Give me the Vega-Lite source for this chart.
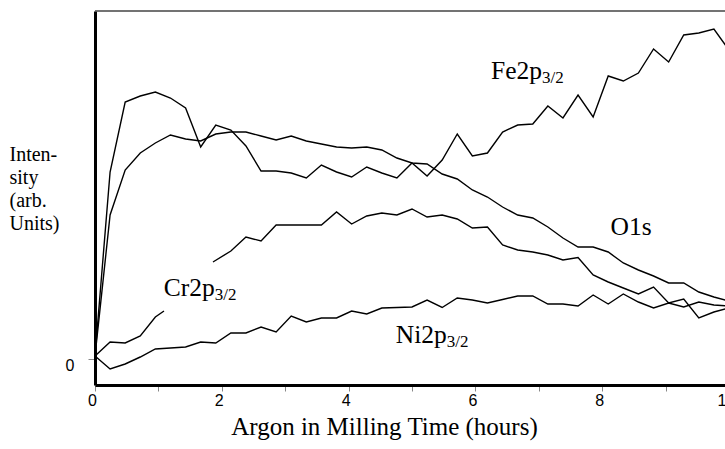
{
  "$schema": "https://vega.github.io/schema/vega-lite/v6.json",
  "width": 630,
  "height": 374,
  "autosize": {"type": "none"},
  "padding": {"left": 95, "top": 11, "right": 0, "bottom": 64},
  "background": "white",
  "config": {"view": {"stroke": null}, "axis": {"grid": false}},
  "datasets": {
    "lines": [
      {"seg":"Fe","h":0,"v":3},{"seg":"Fe","h":0.238,"v":187},{"seg":"Fe","h":0.476,"v":257},{"seg":"Fe","h":0.714,"v":263},{"seg":"Fe","h":0.952,"v":267},{"seg":"Fe","h":1.19,"v":261},{"seg":"Fe","h":1.429,"v":251},{"seg":"Fe","h":1.667,"v":212},{"seg":"Fe","h":1.905,"v":234},{"seg":"Fe","h":2.143,"v":229},{"seg":"Fe","h":2.381,"v":213},{"seg":"Fe","h":2.619,"v":188},{"seg":"Fe","h":2.857,"v":188},{"seg":"Fe","h":3.095,"v":186},{"seg":"Fe","h":3.333,"v":181},{"seg":"Fe","h":3.571,"v":194},{"seg":"Fe","h":3.81,"v":187},{"seg":"Fe","h":4.048,"v":182},{"seg":"Fe","h":4.286,"v":192},{"seg":"Fe","h":4.524,"v":186},{"seg":"Fe","h":4.762,"v":181},{"seg":"Fe","h":5.0,"v":196},{"seg":"Fe","h":5.238,"v":183},{"seg":"Fe","h":5.476,"v":199},{"seg":"Fe","h":5.714,"v":225},{"seg":"Fe","h":5.952,"v":203},{"seg":"Fe","h":6.19,"v":206},{"seg":"Fe","h":6.429,"v":227},{"seg":"Fe","h":6.667,"v":234},{"seg":"Fe","h":6.905,"v":235},{"seg":"Fe","h":7.143,"v":253},{"seg":"Fe","h":7.381,"v":241},{"seg":"Fe","h":7.619,"v":264},{"seg":"Fe","h":7.857,"v":242},{"seg":"Fe","h":8.095,"v":283},{"seg":"Fe","h":8.333,"v":278},{"seg":"Fe","h":8.571,"v":286},{"seg":"Fe","h":8.81,"v":310},{"seg":"Fe","h":9.048,"v":297},{"seg":"Fe","h":9.286,"v":324},{"seg":"Fe","h":9.524,"v":326},{"seg":"Fe","h":9.762,"v":330},{"seg":"Fe","h":10.0,"v":309},
      {"seg":"O1s","h":0,"v":3},{"seg":"O1s","h":0.238,"v":144},{"seg":"O1s","h":0.476,"v":189},{"seg":"O1s","h":0.714,"v":206},{"seg":"O1s","h":0.952,"v":216},{"seg":"O1s","h":1.19,"v":224},{"seg":"O1s","h":1.429,"v":220},{"seg":"O1s","h":1.667,"v":218},{"seg":"O1s","h":1.905,"v":225},{"seg":"O1s","h":2.143,"v":227},{"seg":"O1s","h":2.381,"v":227},{"seg":"O1s","h":2.619,"v":223},{"seg":"O1s","h":2.857,"v":219},{"seg":"O1s","h":3.095,"v":223},{"seg":"O1s","h":3.333,"v":218},{"seg":"O1s","h":3.571,"v":215},{"seg":"O1s","h":3.81,"v":212},{"seg":"O1s","h":4.048,"v":211},{"seg":"O1s","h":4.286,"v":212},{"seg":"O1s","h":4.524,"v":209},{"seg":"O1s","h":4.762,"v":201},{"seg":"O1s","h":5.0,"v":196},{"seg":"O1s","h":5.238,"v":195},{"seg":"O1s","h":5.476,"v":185},{"seg":"O1s","h":5.714,"v":180},{"seg":"O1s","h":5.952,"v":169},{"seg":"O1s","h":6.19,"v":162},{"seg":"O1s","h":6.429,"v":152},{"seg":"O1s","h":6.667,"v":144},{"seg":"O1s","h":6.905,"v":141},{"seg":"O1s","h":7.143,"v":132},{"seg":"O1s","h":7.381,"v":121},{"seg":"O1s","h":7.619,"v":112},{"seg":"O1s","h":7.857,"v":112},{"seg":"O1s","h":8.095,"v":107},{"seg":"O1s","h":8.333,"v":96},{"seg":"O1s","h":8.571,"v":89},{"seg":"O1s","h":8.81,"v":83},{"seg":"O1s","h":9.048,"v":76},{"seg":"O1s","h":9.286,"v":76},{"seg":"O1s","h":9.524,"v":67},{"seg":"O1s","h":9.762,"v":62},{"seg":"O1s","h":10.0,"v":58},
      {"seg":"Cr-a","h":0,"v":3},{"seg":"Cr-a","h":0.238,"v":17},{"seg":"Cr-a","h":0.476,"v":16},{"seg":"Cr-a","h":0.714,"v":23},{"seg":"Cr-a","h":0.952,"v":42},{"seg":"Cr-a","h":1.088,"v":48},
      {"seg":"Cr-b","h":1.861,"v":97},{"seg":"Cr-b","h":2.143,"v":108},{"seg":"Cr-b","h":2.381,"v":122},{"seg":"Cr-b","h":2.619,"v":118},{"seg":"Cr-b","h":2.857,"v":134},{"seg":"Cr-b","h":3.095,"v":134},{"seg":"Cr-b","h":3.333,"v":134},{"seg":"Cr-b","h":3.571,"v":134},{"seg":"Cr-b","h":3.81,"v":147},{"seg":"Cr-b","h":4.048,"v":135},{"seg":"Cr-b","h":4.286,"v":143},{"seg":"Cr-b","h":4.524,"v":146},{"seg":"Cr-b","h":4.762,"v":144},{"seg":"Cr-b","h":5.0,"v":150},{"seg":"Cr-b","h":5.238,"v":142},{"seg":"Cr-b","h":5.476,"v":144},{"seg":"Cr-b","h":5.714,"v":140},{"seg":"Cr-b","h":5.952,"v":131},{"seg":"Cr-b","h":6.19,"v":132},{"seg":"Cr-b","h":6.429,"v":114},{"seg":"Cr-b","h":6.667,"v":109},{"seg":"Cr-b","h":6.905,"v":107},{"seg":"Cr-b","h":7.143,"v":104},{"seg":"Cr-b","h":7.381,"v":99},{"seg":"Cr-b","h":7.619,"v":101.5},{"seg":"Cr-b","h":7.857,"v":84},{"seg":"Cr-b","h":8.095,"v":77},{"seg":"Cr-b","h":8.333,"v":71},{"seg":"Cr-b","h":8.571,"v":65},{"seg":"Cr-b","h":8.81,"v":72},{"seg":"Cr-b","h":9.048,"v":56},{"seg":"Cr-b","h":9.286,"v":60},{"seg":"Cr-b","h":9.524,"v":41},{"seg":"Cr-b","h":9.762,"v":47},{"seg":"Cr-b","h":10.0,"v":51},
      {"seg":"Ni","h":0,"v":3},{"seg":"Ni","h":0.238,"v":-10},{"seg":"Ni","h":0.476,"v":-5},{"seg":"Ni","h":0.714,"v":2},{"seg":"Ni","h":0.952,"v":10},{"seg":"Ni","h":1.19,"v":11},{"seg":"Ni","h":1.429,"v":12},{"seg":"Ni","h":1.667,"v":17},{"seg":"Ni","h":1.905,"v":16},{"seg":"Ni","h":2.143,"v":26},{"seg":"Ni","h":2.381,"v":26},{"seg":"Ni","h":2.619,"v":32},{"seg":"Ni","h":2.857,"v":27},{"seg":"Ni","h":3.095,"v":43},{"seg":"Ni","h":3.333,"v":37},{"seg":"Ni","h":3.571,"v":41},{"seg":"Ni","h":3.81,"v":41},{"seg":"Ni","h":4.048,"v":48},{"seg":"Ni","h":4.286,"v":45},{"seg":"Ni","h":4.524,"v":51},{"seg":"Ni","h":4.762,"v":51.5},{"seg":"Ni","h":5.0,"v":52},{"seg":"Ni","h":5.238,"v":59},{"seg":"Ni","h":5.476,"v":51.5},{"seg":"Ni","h":5.714,"v":61},{"seg":"Ni","h":5.952,"v":59},{"seg":"Ni","h":6.19,"v":56},{"seg":"Ni","h":6.429,"v":59.5},{"seg":"Ni","h":6.667,"v":63},{"seg":"Ni","h":6.905,"v":63},{"seg":"Ni","h":7.143,"v":55},{"seg":"Ni","h":7.381,"v":55},{"seg":"Ni","h":7.619,"v":53},{"seg":"Ni","h":7.857,"v":64},{"seg":"Ni","h":8.095,"v":55},{"seg":"Ni","h":8.333,"v":65},{"seg":"Ni","h":8.571,"v":57},{"seg":"Ni","h":8.81,"v":51},{"seg":"Ni","h":9.048,"v":56},{"seg":"Ni","h":9.286,"v":52},{"seg":"Ni","h":9.524,"v":57},{"seg":"Ni","h":9.762,"v":54},{"seg":"Ni","h":10.0,"v":53}
    ],
    "labels": [
      {"label":"Fe2p","h":7.05,"v":279.7},
      {"label":"O1s","h":8.781,"v":124},
      {"label":"Cr2p","h":1.888,"v":63},
      {"label":"Ni2p","h":5.548,"v":15.7}
    ],
    "subs": [
      {"label":"3/2","h":7.05,"v":276},
      {"label":"3/2","h":1.888,"v":59},
      {"label":"3/2","h":5.548,"v":12}
    ]
  },
  "layer": [
    {
      "data": {"name": "lines"},
      "mark": {"type": "line", "color": "black", "strokeWidth": 1.4},
      "encoding": {
        "x": {
          "field": "h", "type": "quantitative",
          "scale": {"domain": [0, 10], "range": [0, 634], "nice": false, "zero": false},
          "axis": {
            "title": "Argon in Milling Time (hours)",
            "titleFont": "Liberation Serif", "titleFontSize": 25, "titleFontWeight": "normal", "titleColor": "black",
            "titleX": 289, "titleY": 49, "titleBaseline": "alphabetic", "titleAlign": "center",
            "values": [0,0.25,0.5,0.75,1,1.25,1.5,1.75,2,2.25,2.5,2.75,3,3.25,3.5,3.75,4,4.25,4.5,4.75,5,5.25,5.5,5.75,6,6.25,6.5,6.75,7,7.25,7.5,7.75,8,8.25,8.5,8.75,9,9.25,9.5,9.75,10],
            "format": "d",
            "labelExpr": "datum.value % 2 === 0 ? datum.label : ''",
            "labelFont": "Liberation Sans", "labelFontSize": 16, "labelColor": "black", "labelPadding": 1, "labelOffset": -3,
            "labelFlush": false, "labelOverlap": false,
            "domainColor": "black", "domainWidth": 3,
            "tickColor": "#888", "tickWidth": 1,
            "tickSize": {"condition": {"test": "datum.value % 1 === 0", "value": 6}, "value": 3},
            "grid": false
          }
        },
        "y": {
          "field": "v", "type": "quantitative",
          "scale": {"domain": [-26, 348], "nice": false, "zero": false},
          "axis": {
            "title": ["Inten-", "sity", "(arb.", "Units)"],
            "titleAngle": 0, "titleAlign": "left", "titleBaseline": "alphabetic",
            "titleX": -86, "titleY": 149,
            "titleFont": "Liberation Serif", "titleFontSize": 20, "titleFontWeight": "normal", "titleColor": "black", "titleLineHeight": 23.3,
            "values": [0],
            "labelFont": "Liberation Sans", "labelFontSize": 16, "labelColor": "black", "labelPadding": 14, "labelOffset": 6,
            "tickColor": "#888", "tickSize": 7,
            "domainColor": "black", "domainWidth": 3,
            "grid": false
          }
        },
        "detail": {"field": "seg", "type": "nominal"}
      }
    },
    {
      "data": {"values": [{}]},
      "mark": {"type": "rule", "color": "#444", "strokeWidth": 1.5},
      "encoding": {
        "y": {"datum": 348, "type": "quantitative"}
      }
    },
    {
      "data": {"name": "labels"},
      "mark": {"type": "text", "font": "Liberation Serif", "fontSize": 25.5, "align": "right", "baseline": "alphabetic", "color": "black"},
      "encoding": {
        "x": {"field": "h", "type": "quantitative"},
        "y": {"field": "v", "type": "quantitative"},
        "text": {"field": "label"}
      }
    },
    {
      "data": {"name": "subs"},
      "mark": {"type": "text", "font": "Liberation Serif", "fontSize": 17, "align": "left", "baseline": "alphabetic", "color": "black"},
      "encoding": {
        "x": {"field": "h", "type": "quantitative"},
        "y": {"field": "v", "type": "quantitative"},
        "text": {"field": "label"}
      }
    }
  ]
}
